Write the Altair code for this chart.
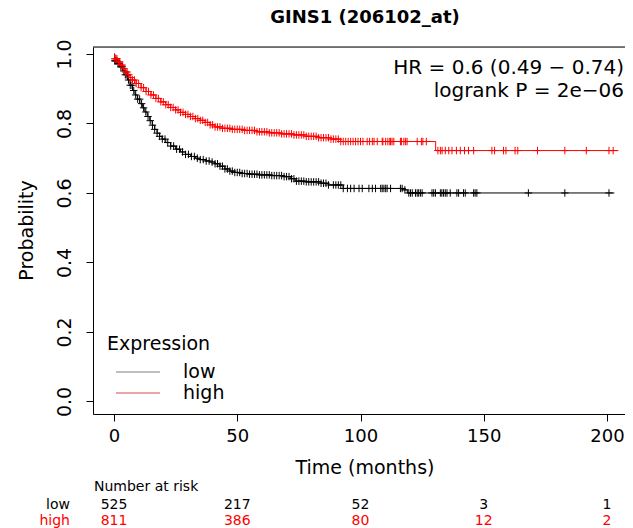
import altair as alt
import pandas as pd
import numpy as np

# ---------------- data ----------------
groups = ["low", "high"]
colors = ["black", "red"]

low_t = [0, 0.3, 1.5, 2.5, 3.5, 4.5, 5.5, 6.5, 7.5, 8.5, 9.5, 10.5, 11.5, 12.5, 13.5, 14.5,
         15.5, 16.5, 17.5, 18.5, 19.5, 21, 23, 25, 27, 29, 31, 33, 35, 37, 39, 41, 43, 45,
         47, 49, 52, 55, 59, 64, 69, 71.5, 73.5, 78, 84, 87, 93, 117, 119]
low_s = [1.0, 0.98, 0.972, 0.963, 0.951, 0.94, 0.925, 0.91, 0.895, 0.882, 0.87, 0.857,
         0.845, 0.833, 0.82, 0.808, 0.795, 0.783, 0.772, 0.763, 0.755, 0.745, 0.735, 0.726,
         0.718, 0.711, 0.705, 0.700, 0.696, 0.692, 0.689, 0.684, 0.677, 0.669, 0.663, 0.659,
         0.656, 0.654, 0.652, 0.650, 0.647, 0.641, 0.634, 0.632, 0.628, 0.623, 0.613, 0.609,
         0.600]
low_end = 203.0

high_t = [0, 0.3, 1.5, 2.5, 3.5, 4.5, 5.5, 6.5, 7.5, 9, 11, 13, 15, 17, 19, 21, 23, 25, 27,
          29, 31, 33, 35, 37, 39, 41, 44, 48, 53, 58, 63, 68, 73, 78, 83, 88, 92, 130.5]
high_s = [1.0, 0.986, 0.977, 0.968, 0.958, 0.948, 0.94, 0.932, 0.925, 0.915, 0.903, 0.892,
          0.882, 0.872, 0.862, 0.854, 0.846, 0.839, 0.832, 0.826, 0.82, 0.814, 0.809, 0.803,
          0.796, 0.79, 0.786, 0.783, 0.780, 0.776, 0.773, 0.770, 0.767, 0.763, 0.759, 0.755,
          0.748, 0.722]
high_end = 204.6

low_cens = [0.3, 0.7, 1.2, 1.7, 2.2, 2.8, 3.4, 4, 4.6, 5.2, 5.9, 6.6, 7.3, 8, 8.8, 9.6, 10.4,
            11.2, 12, 12.9, 13.8, 14.7, 15.6, 16.5, 17.5, 18.5, 19.6, 20.7, 21.8, 23, 24.2,
            25.4, 26.6, 27.8, 29, 30.2, 31.4, 32.6, 33.8, 35, 36.2, 37.4, 38.6, 39.8, 41, 42,
            43, 44, 45, 46, 47, 48, 49, 50, 51, 52, 53, 54, 55, 56, 57, 58, 59, 60, 61, 62, 63,
            64, 65, 66, 67, 68, 69, 70, 71, 72, 73, 74, 75, 76, 77, 78, 79, 80, 81, 82, 83, 84,
            85, 86, 87, 89, 90, 91, 92, 93, 94.7, 96, 97.4, 99.4, 100.7, 103.4, 104.8, 106.1,
            108.2, 108.8, 109.5, 110.2, 110.8, 112.2, 116.2, 116.9, 118, 119.6, 120.3, 121,
            122.3, 123, 123.6, 124.3, 125, 129, 129.7, 130.4, 132.4, 133, 133.7, 134.4, 135.1,
            136.4, 139.1, 139.8, 141.8, 142.5, 145.9, 146.5, 147.2, 168.1, 182.9, 200.8]
high_cens = [0.3, 0.8, 1.2, 1.8, 2.3, 2.8, 3.3, 4, 4.7, 5.3, 6, 6.8, 7.5, 8.3, 9, 10, 11, 12,
             13, 14, 15, 16, 17, 18, 19, 20, 21, 22, 23, 24, 25, 26, 27, 28, 29, 30, 31, 32, 33,
             34, 35, 36, 37, 38, 39, 40, 41, 42, 43, 44, 45, 46, 47, 48, 49, 50, 51, 52, 53, 54,
             55, 56, 57, 58, 59, 60, 61, 62, 63, 64, 65, 66, 67, 68, 69, 70, 71, 72, 73, 74, 75,
             76, 77, 78, 79, 80, 81, 82, 83, 84, 85, 86, 87, 88, 89, 90, 91, 92, 93, 94, 95, 96,
             97, 98, 99, 100, 101, 102.7, 103.7, 104.8, 105.5, 106.8, 108.8, 109.1, 110.2,
             111.1, 111.9, 112.2, 112.8, 113.5, 116.2, 116.6, 117.6, 118.3, 118.9, 123, 124.7,
             125.3, 126.7, 131.4, 132.4, 133.1, 134.4, 135.8, 137.1, 138.9, 140.5, 142.2,
             143.8, 145.9, 153.3, 154.4, 158, 159, 162.7, 163.8, 171.8, 182.9, 191.6, 200.8,
             202.5]

risk_times = [0, 50, 100, 150, 200]
risk_low = [525, 217, 52, 3, 1]
risk_high = [811, 386, 80, 12, 2]

x_ticks = [0, 50, 100, 150, 200]
y_ticks = [0.0, 0.2, 0.4, 0.6, 0.8, 1.0]

# ---------------- tables built from the lists ----------------
def step_at(ts, ss, t):
    i = int(np.searchsorted(np.asarray(ts), t, side="right")) - 1
    return ss[max(i, 0)]

line_rows = []
for g, ts, ss, end in [("low", low_t, low_s, low_end), ("high", high_t, high_s, high_end)]:
    for t, s in zip(ts, ss):
        line_rows.append({"group": g, "time": t, "surv": s})
    line_rows.append({"group": g, "time": end, "surv": ss[-1]})
lines_df = pd.DataFrame(line_rows)

cens_rows = []
for g, ts, ss, cs_ in [("low", low_t, low_s, low_cens), ("high", high_t, high_s, high_cens)]:
    for c in cs_:
        cens_rows.append({"group": g, "time": c, "surv": step_at(ts, ss, c)})
cens_df = pd.DataFrame(cens_rows)

risk_df = pd.DataFrame({"time": risk_times * 2,
                        "n": [str(v) for v in risk_low + risk_high],
                        "group": ["low"] * 5 + ["high"] * 5})

# ---------------- chart ----------------
W, H = 532, 367
FONT = "DejaVu Sans"
xs = alt.Scale(domain=[-8.52, 207.3], nice=False, zero=False)
ys = alt.Scale(domain=[-0.036, 1.02], nice=False, zero=False)
cs = alt.Scale(domain=groups, range=colors)

x_enc = alt.X("time:Q", scale=xs, axis=alt.Axis(
    values=x_ticks, format="d", title=None, grid=False, domain=True, domainColor="black",
    domainWidth=1, ticks=True, tickColor="black", tickSize=7, tickWidth=1,
    labelFont=FONT, labelFontSize=18, labelColor="black", labelPadding=6,
    labelFlush=False, labelOverlap=False))
y_enc = alt.Y("surv:Q", scale=ys, axis=alt.Axis(
    values=y_ticks, format=".1f", title=None, grid=False, domain=True, domainColor="black",
    domainWidth=1, ticks=True, tickColor="black", tickSize=7, tickWidth=1,
    labelFont=FONT, labelFontSize=19, labelColor="black", labelAngle=270,
    labelAlign="center", labelBaseline="bottom", labelPadding=12,
    labelFlush=False, labelOverlap=False))

lines = alt.Chart(lines_df).mark_line(interpolate="step-after", strokeWidth=1).encode(
    x=x_enc, y=y_enc, color=alt.Color("group:N", scale=cs, legend=None))

plus = "M-1,0L1,0M0,-1L0,1"
cens = alt.Chart(cens_df).mark_point(shape=plus, filled=False, size=56, strokeWidth=1,
                                     opacity=1).encode(
    x=alt.X("time:Q", scale=xs), y=alt.Y("surv:Q", scale=ys),
    color=alt.Color("group:N", scale=cs, legend=None))

one = pd.DataFrame({"k": [0]})

def txt(label, x, y, size=19, align="left", color="black", bold=False, angle=0,
        baseline="middle"):
    kw = dict(align=align, baseline=baseline, font=FONT, fontSize=size, color=color)
    if bold:
        kw["fontWeight"] = "bold"
    if angle:
        kw["angle"] = angle
    return alt.Chart(one).mark_text(**kw).encode(
        x=alt.value(x), y=alt.value(y), text=alt.value(label))

top_border = alt.Chart(one).mark_rule(color="black", strokeWidth=1).encode(
    x=alt.value(0), x2=alt.value(W), y=alt.value(0))

leg_low = alt.Chart(one).mark_rule(color="#808080", strokeWidth=1.2).encode(
    x=alt.value(23), x2=alt.value(67), y=alt.value(325))
leg_high = alt.Chart(one).mark_rule(color="#e04848", strokeWidth=1.2).encode(
    x=alt.value(23), x2=alt.value(67), y=alt.value(346))

risk_low_t = alt.Chart(risk_df[risk_df.group == "low"]).mark_text(
    font=FONT, fontSize=14, color="black", baseline="middle").encode(
    x=alt.X("time:Q", scale=xs), y=alt.value(458), text="n:N")
risk_high_t = alt.Chart(risk_df[risk_df.group == "high"]).mark_text(
    font=FONT, fontSize=14, color="red", baseline="middle").encode(
    x=alt.X("time:Q", scale=xs), y=alt.value(474), text="n:N")

chart = alt.layer(
    lines, cens, top_border,
    txt("HR = 0.6 (0.49 \u2212 0.74)", 531, 21, size=20, align="right"),
    txt("logrank P = 2e\u221206", 531, 44, size=20, align="right"),
    txt("Expression", 14, 297, size=19),
    leg_low, leg_high,
    txt("low", 90, 325, size=19),
    txt("high", 90, 346, size=19),
    txt("GINS1 (206102_at)", 272, -38, size=18, align="center", bold=True,
        baseline="top"),
    txt("Probability", -66, H / 2, size=19, align="center", angle=270),
    txt("Time (months)", 272, 421, size=19, align="center"),
    txt("Number at risk", 1, 440, size=14),
    txt("low", -23, 458, size=14, align="right"),
    txt("high", -23, 474, size=14, align="right", color="red"),
    risk_low_t, risk_high_t,
).properties(
    width=W, height=H,
    padding={"left": 85, "top": 39, "right": 0, "bottom": 114},
    autosize=alt.AutoSizeParams(type="none"),
).configure_view(stroke=None).configure(background="white")

chart.save("out.html", embed_options={"renderer": "svg", "actions": False})
